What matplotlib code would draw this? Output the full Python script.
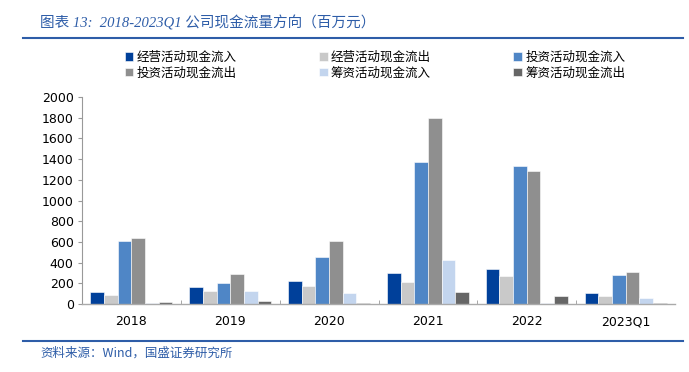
import matplotlib.pyplot as plt
import numpy as np
from matplotlib.lines import Line2D

plt.rcParams['font.family'] = ['DejaVu Sans', 'Noto Sans CJK SC']

years = ['2018', '2019', '2020', '2021', '2022', '2023Q1']
series_names = ['经营活动现金流入', '经营活动现金流出', '投资活动现金流入',
                '投资活动现金流出', '筹资活动现金流入', '筹资活动现金流出']
op_in = [120, 165, 225, 295, 340, 105]
op_out = [85, 130, 175, 215, 275, 80]
inv_in = [610, 200, 455, 1370, 1330, 280]
inv_out = [640, 290, 610, 1800, 1285, 305]
fin_in = [10, 125, 110, 425, 10, 55]
fin_out = [20, 25, 10, 120, 75, 5]
values = [op_in, op_out, inv_in, inv_out, fin_in, fin_out]
colors = ['#00409A', '#C9C9C9', '#4F86C6', '#8F8F8F', '#C3D5EE', '#666666']

fig = plt.figure(figsize=(6.89, 3.72), dpi=100)
ax = fig.add_axes([82 / 689, 1 - 304 / 372, 593 / 689, 207 / 372])

x = np.arange(len(years))
w = 0.138
handles = []
for i, (name, vals, c) in enumerate(zip(series_names, values, colors)):
    b = ax.bar(x + (i - 2.5) * w, vals, w, color=c, edgecolor='white',
               linewidth=0.4, label=name)
    handles.append(b)

ax.set_xlim(-0.5, 5.5)
ax.set_ylim(0, 2000)
ax.set_yticks(range(0, 2001, 200))
ax.tick_params(axis='y', labelsize=9, length=3, color='#999999', pad=3)
ax.set_xticks(x)
ax.set_xticklabels(years, fontsize=9)
ax.tick_params(axis='x', length=0, pad=8)
ax.set_xticks(np.arange(0.5, 5.5, 1), minor=True)
ax.tick_params(axis='x', which='minor', length=3, color='#999999', direction='in')
for s in ['top', 'right']:
    ax.spines[s].set_visible(False)
ax.spines['left'].set_color('#999999')
ax.spines['bottom'].set_color('#AAAAAA')
ax.spines['bottom'].set_linewidth(1.0)

# matplotlib fills legend columns first, so reorder to read row by row
order = [0, 3, 1, 4, 2, 5]
leg = fig.legend([handles[i] for i in order], [series_names[i] for i in order],
                 ncol=3, loc='center', bbox_to_anchor=(375 / 689, 1 - 65 / 372),
                 frameon=False, handlelength=0.7, handleheight=0.7,
                 handletextpad=0.25, columnspacing=6.6, labelspacing=0.2,
                 prop={'family': 'Noto Sans CJK SC', 'size': 9})

blue = '#2E5DA8'
fig.text(40 / 689, 1 - 23 / 372, '图表 13:  2018-2023Q1 公司现金流量方向（百万元）',
         fontsize=10.5, style='italic', color=blue, va='center',
         family=['Liberation Serif', 'Noto Sans CJK SC'])
fig.add_artist(Line2D([23 / 689, 683 / 689], [1 - 38 / 372, 1 - 38 / 372],
                      color=blue, lw=1.5))
fig.add_artist(Line2D([23 / 689, 683 / 689], [1 - 341 / 372, 1 - 341 / 372],
                      color=blue, lw=1.5))
fig.text(40 / 689, 1 - 353 / 372, '资料来源：Wind，国盛证券研究所',
         fontsize=9, style='italic', color=blue, va='center',
         family=['Noto Sans CJK SC', 'DejaVu Sans'])

fig.savefig('out.png', dpi=100)
